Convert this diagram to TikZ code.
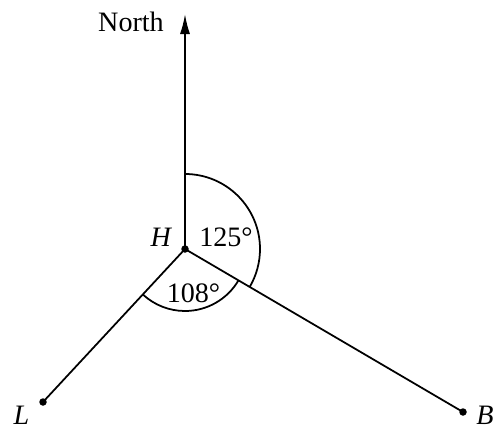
\documentclass[tikz,border=0pt]{standalone}
\usepackage{fontspec}
\setmainfont{Liberation Serif}
\usepackage{tikz}
\usetikzlibrary{arrows.meta,calc}

\begin{document}
\begin{tikzpicture}[line width=1pt,
    dot/.style={circle,fill=black,inner sep=0pt,minimum size=1.5mm},
    lbl/.style={font=\fontsize{16}{18}\selectfont,inner sep=1pt}]
      \useasboundingbox (0,0) rectangle (10.02,8.62);
      % Points
      \node[dot] (H) at (3.70,3.64) {};
      \node[dot] (L) at (0.86,0.58) {};
      \node[dot] (B) at (9.26,0.38) {};
      \coordinate (N) at (3.70,8.34);
      % Lines
      \draw[-{Latex[length=4mm,width=2mm]}] (H.center) -- (N);
      \draw (H.center) -- (L.center);
      \draw (H.center) -- (B.center);
      % Angles
      \draw ($(H.center)+(90:1.5)$) arc[start angle=90,end angle=-30.4,radius=1.5];
      \draw ($(H.center)+(-30.4:1.24)$) arc[start angle=-30.4,end angle=-132.9,radius=1.24];
      % Labels
      \node[lbl] (north) at (2.62,8.18) {North};
      \node[lbl] (hl) at (3.23,3.87) {\textit{H}};
      \node[lbl] (ll) at (0.43,0.31) {\textit{L}};
      \node[lbl] (bl) at (9.70,0.31) {\textit{B}};
      \node[lbl] (a1) at (4.52,3.87) {125\textdegree};
      \node[lbl] (a2) at (3.87,2.75) {108\textdegree};
\end{tikzpicture}
\end{document}
